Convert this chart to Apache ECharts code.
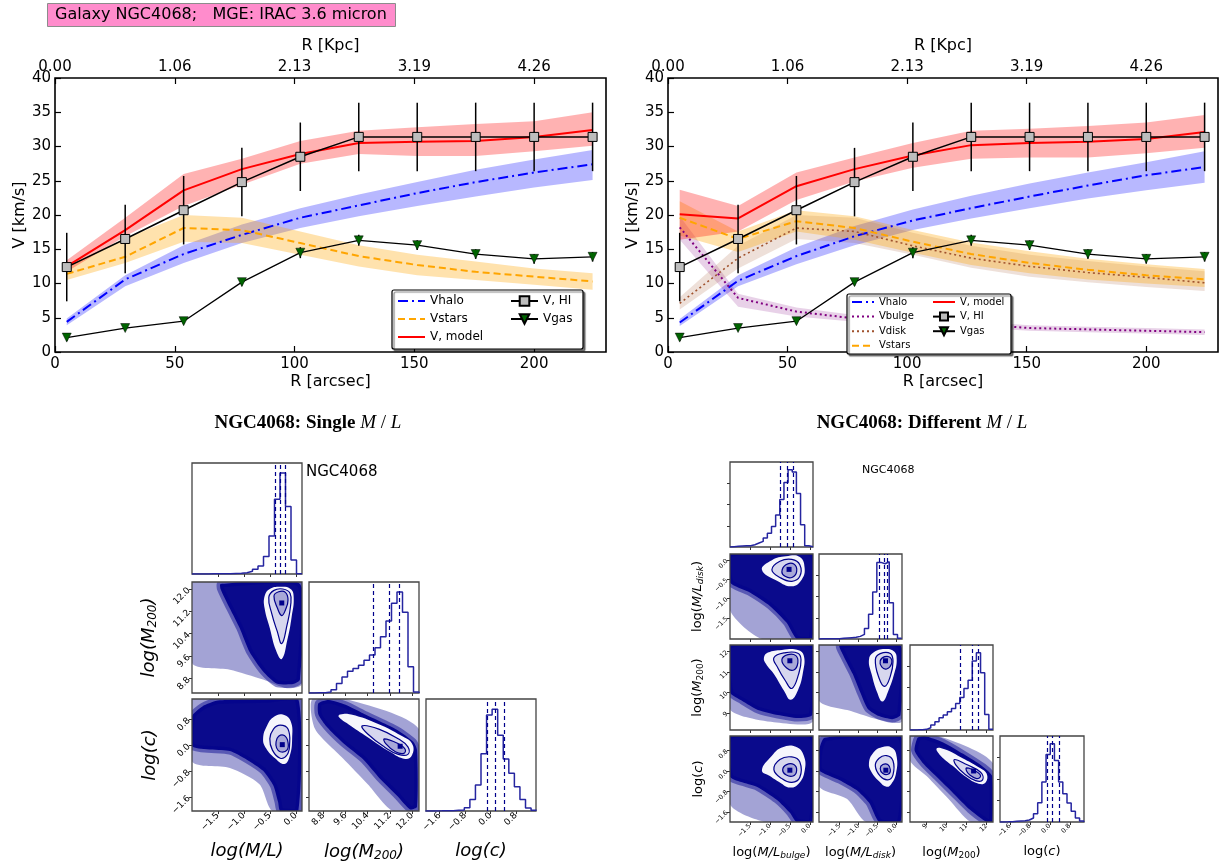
<!DOCTYPE html>
<html>
<head>
<meta charset="utf-8">
<script src="https://cdn.jsdelivr.net/npm/echarts@6/dist/echarts.min.js"></script>
<style>
html, body { margin: 0; padding: 0; background: #fff; }
#main { width: 1219px; height: 867px; }
</style>
</head>
<body>
<div id="main"></div>
<script>
// NGC4068 rotation curve decomposition + MCMC corner plots
const FONT = 'DejaVu Sans';
const NAVY = '#00008b';

// ---- rotation curves (radius in arcsec, velocities in km/s) ----
const radius = [4.9, 29.3, 53.7, 78.0, 102.4, 126.8, 151.2, 175.6, 200.0, 224.4];
const vHI = [12.4, 16.5, 20.7, 24.8, 28.5, 31.4, 31.4, 31.4, 31.4, 31.4];
const eHI = [5.0, 5.0, 5.0, 5.0, 5.0, 5.0, 5.0, 5.0, 5.0, 5.0];
const vGas = [2.1, 3.5, 4.5, 10.2, 14.5, 16.3, 15.6, 14.3, 13.6, 13.9];
const eGas = [0.5, 0.4, 0.4, 0.5, 0.8, 0.8, 0.7, 0.7, 0.7, 0.7];
const arcsecTicks = [0, 50, 100, 150, 200];
const kpcLabels = ['0.00', '1.06', '2.13', '3.19', '4.26'];
const velTicks = [0, 5, 10, 15, 20, 25, 30, 35, 40];

// single M/L fit
const singleHalo   = [4.4, 10.6, 14.3, 17.1, 19.6, 21.4, 23.2, 24.8, 26.2, 27.4];
const singleHaloLo = [3.9, 9.6, 13.0, 15.9, 18.1, 19.8, 21.3, 22.7, 24.0, 25.1];
const singleHaloHi = [4.9, 11.2, 15.6, 18.6, 21.0, 23.0, 24.8, 26.6, 28.1, 29.5];
const singleStars   = [11.4, 13.9, 18.1, 17.8, 15.9, 14.0, 12.7, 11.7, 11.0, 10.3];
const singleStarsLo = [10.5, 13.0, 16.1, 15.9, 14.2, 12.5, 11.2, 10.5, 9.8, 9.1];
const singleStarsHi = [12.5, 16.6, 20.0, 19.6, 17.6, 15.6, 14.2, 13.2, 12.2, 11.5];
const singleModel   = [12.5, 17.8, 23.6, 26.7, 28.9, 30.5, 30.7, 30.8, 31.4, 32.4];
const singleModelLo = [11.7, 16.9, 21.3, 24.4, 27.5, 28.9, 28.6, 28.6, 29.3, 30.1];
const singleModelHi = [13.4, 19.6, 26.0, 28.2, 30.8, 32.3, 32.8, 33.3, 33.7, 35.0];

// different M/L fit
const diffHalo   = [4.3, 10.4, 14.0, 16.9, 19.2, 21.0, 22.7, 24.3, 25.8, 27.0];
const diffHaloLo = [3.8, 9.6, 12.8, 15.6, 17.8, 19.5, 21.0, 22.4, 23.6, 24.7];
const diffHaloHi = [4.8, 11.2, 15.3, 18.4, 20.8, 22.8, 24.6, 26.2, 27.7, 29.3];
const diffBulge   = [18.2, 7.9, 5.9, 4.9, 4.4, 4.1, 3.5, 3.3, 3.1, 2.9];
const diffBulgeLo = [16.4, 6.6, 5.2, 4.4, 3.9, 3.6, 3.1, 2.9, 2.7, 2.5];
const diffBulgeHi = [19.8, 8.5, 6.5, 5.4, 4.9, 4.5, 3.9, 3.7, 3.5, 3.3];
const diffDisk   = [7.1, 13.7, 18.1, 17.6, 15.5, 13.7, 12.5, 11.6, 10.9, 10.1];
const diffDiskLo = [6.2, 12.2, 16.5, 15.9, 14.2, 12.3, 11.0, 10.2, 9.5, 8.9];
const diffDiskHi = [8.0, 15.5, 20.0, 19.6, 17.4, 15.5, 14.2, 13.3, 12.5, 11.8];
const diffStars   = [19.6, 16.5, 19.1, 18.1, 16.1, 14.3, 13.0, 12.0, 11.2, 10.6];
const diffStarsLo = [17.0, 14.6, 17.6, 16.4, 14.5, 12.7, 11.5, 10.6, 10.0, 9.5];
const diffStarsHi = [22.0, 17.6, 20.7, 19.8, 17.8, 16.0, 14.7, 13.6, 12.8, 12.1];
const diffModel   = [20.1, 19.5, 24.2, 26.7, 28.7, 30.2, 30.5, 30.7, 31.1, 32.1];
const diffModelLo = [16.4, 17.6, 22.2, 24.9, 26.9, 28.2, 28.4, 28.4, 29.0, 29.8];
const diffModelHi = [23.7, 21.3, 26.2, 28.4, 30.5, 32.3, 32.6, 33.0, 33.5, 34.6];

// ---- corner plot, single M/L ----
const mlTicks = [-1.5, -1.0, -0.5, 0.0];
const m200Ticks = [8.8, 9.6, 10.4, 11.2, 12.0];
const cTicks = [-1.6, -0.8, 0.0, 0.8];
const histML = [0.3, 0.3, 0.3, 0.4, 0.5, 0.7, 1, 1.5, 2, 4, 8, 14, 24, 52, 114, 224, 302, 202, 42, 1];
const histM200 = [0, 0.5, 1, 3, 10, 28, 48, 65, 73, 83, 98, 113, 135, 168, 215, 268, 301, 241, 78, 3];
const histC = [0.2, 0.3, 0.4, 0.6, 1, 2, 3, 10, 34, 77, 170, 285, 302, 225, 154, 112, 72, 34, 9, 2];
const qML = [-0.40, -0.29, -0.20];
const qM200 = [10.59, 11.18, 11.54];
const qC = [-0.085, 0.148, 0.423];

const sMlM200Sparse = [[-2.0, 12.25], [0.12, 12.25], [0.12, 8.6], [-0.17, 8.45], [-0.63, 8.76], [-1.27, 9.11], [-2.0, 9.35]];
const sMlM200Dense = [[-1.45, 12.18], [0.08, 12.18], [0.08, 8.75], [-0.05, 8.6], [-0.37, 8.62], [-0.63, 9.05], [-0.89, 9.75], [-1.08, 10.6], [-1.27, 11.3], [-1.45, 12.0]];
const sMlM200Outer = [[-0.6, 11.75], [-0.5, 12.0], [-0.3, 12.08], [-0.1, 12.0], [-0.04, 11.7], [-0.08, 11.0], [-0.16, 10.2], [-0.27, 9.5], [-0.38, 9.8], [-0.5, 10.6], [-0.6, 11.3]];
const sMlM200Mid = [[-0.52, 11.7], [-0.42, 11.95], [-0.25, 12.0], [-0.11, 11.85], [-0.1, 11.4], [-0.17, 10.7], [-0.27, 10.05], [-0.36, 10.5], [-0.46, 11.1]];
const sMlM200Inner = [[-0.42, 11.75], [-0.33, 11.9], [-0.2, 11.88], [-0.15, 11.6], [-0.2, 11.25], [-0.27, 11.05], [-0.35, 11.3]];
const sMlM200Peak = [-0.27, 11.5];

const sMlCSparse = [[-2.0, 1.43], [0.12, 1.43], [0.12, -2.03], [-0.45, -2.03], [-0.7, -1.2], [-1.27, -0.7], [-2.0, -0.5]];
const sMlCDense = [[-1.5, 1.38], [-0.6, 1.42], [0.05, 1.42], [0.05, -2.03], [-0.3, -2.03], [-0.34, -1.76], [-0.43, -1.25], [-0.63, -0.79], [-0.95, -0.44], [-1.27, -0.18], [-2.0, -0.03], [-2.0, 0.9], [-1.8, 1.2]];
const sMlCOuter = [[-0.63, 0.2], [-0.55, 0.62], [-0.42, 0.88], [-0.25, 0.95], [-0.1, 0.75], [-0.07, 0.2], [-0.12, -0.35], [-0.22, -0.58], [-0.4, -0.4], [-0.57, -0.1]];
const sMlCMid = [[-0.5, 0.2], [-0.43, 0.5], [-0.3, 0.62], [-0.15, 0.5], [-0.12, 0.0], [-0.17, -0.3], [-0.3, -0.4], [-0.45, -0.15]];
const sMlCInner = [[-0.38, 0.1], [-0.33, 0.28], [-0.22, 0.3], [-0.15, 0.1], [-0.17, -0.15], [-0.3, -0.2], [-0.37, -0.08]];
const sMlCPeak = [-0.26, 0.02];

const sM200CSparse = [[8.4, 1.43], [9.6, 1.43], [12.25, 0.5], [12.25, -2.03], [11.3, -2.03], [10.4, -1.2], [9.5, -0.4], [8.5, 0.5]];
const sM200CDense = [[8.62, 1.3], [9.0, 1.4], [9.6, 1.25], [10.24, 0.98], [11.45, 0.48], [12.05, 0.1], [12.18, -0.15], [12.18, -1.9], [11.93, -1.98], [11.45, -1.55], [10.85, -1.04], [10.24, -0.44], [9.52, 0.06], [8.92, 0.57], [8.62, 0.95]];
const sM200COuter = [[9.4, 0.95], [9.8, 0.95], [10.8, 0.65], [11.6, 0.3], [12.0, 0.05], [12.0, -0.3], [11.75, -0.42], [11.2, -0.2], [10.4, 0.25], [9.7, 0.65], [9.35, 0.88]];
const sM200CMid = [[10.2, 0.6], [10.8, 0.5], [11.5, 0.2], [11.85, -0.05], [11.85, -0.28], [11.5, -0.28], [11.0, -0.05], [10.4, 0.35]];
const sM200CInner = [[11.0, 0.2], [11.5, 0.05], [11.75, -0.12], [11.7, -0.25], [11.4, -0.2], [11.05, 0.05]];
const sM200CPeak = [11.57, -0.03];

// ---- corner plot, different M/L ----
const mlbTicks = [-1.5, -1.0, -0.5, 0.0];
const mldTicks = [-1.5, -1.0, -0.5, 0.0];
const m200rTicks = [9, 10, 11, 12];
const crTicks = [-1.6, -0.8, 0.0, 0.8];
const histMLb = [1, 2, 3, 4, 4, 7, 12, 17, 27, 42, 62, 97, 144, 195, 234, 227, 162, 67, 4, 1];
const histMLd = [0.5, 0.5, 1, 1, 1, 2, 3, 4, 5, 8, 14, 32, 75, 142, 232, 228, 234, 110, 14, 2];
const histM200r = [0.3, 0.5, 1, 2, 7, 15, 25, 37, 45, 55, 65, 80, 98, 125, 150, 208, 233, 173, 47, 2];
const histCr = [0.3, 0.5, 1, 2, 3, 4, 6, 12, 25, 58, 120, 203, 235, 185, 120, 85, 57, 32, 12, 3];
const qMLb = [-0.73, -0.56, -0.42];
const qMLd = [-0.45, -0.32, -0.22];
const qM200r = [10.7, 11.27, 11.58];
const qCr = [-0.11, 0.11, 0.36];

const dBulgeDiskSparse = [[-2.0, 0.16], [0.08, 0.16], [0.08, -2.05], [-1.2, -2.05], [-2.0, -1.3]];
const dBulgeDiskDense = [[-2.0, 0.16], [0.06, 0.16], [0.06, -2.05], [-0.33, -2.05], [-0.58, -1.63], [-1.0, -1.19], [-1.5, -0.84], [-2.0, -0.58]];
const dBulgeDiskOuter = [[-1.2, -0.25], [-0.95, 0.0], [-0.6, 0.1], [-0.25, 0.08], [-0.13, -0.2], [-0.2, -0.5], [-0.45, -0.68], [-0.8, -0.55]];
const dBulgeDiskMid = [[-0.95, -0.25], [-0.75, -0.03], [-0.45, 0.02], [-0.25, -0.12], [-0.25, -0.42], [-0.45, -0.55], [-0.75, -0.45]];
const dBulgeDiskInner = [[-0.7, -0.3], [-0.6, -0.12], [-0.4, -0.1], [-0.33, -0.3], [-0.45, -0.45], [-0.62, -0.42]];
const dBulgeDiskPeak = [-0.52, -0.24];

const dBulgeM200Sparse = [[-2.0, 12.32], [0.08, 12.32], [0.08, 8.6], [-0.9, 8.55], [-1.6, 8.8], [-2.0, 9.2]];
const dBulgeM200Dense = [[-2.0, 12.32], [0.06, 12.32], [0.06, 8.9], [-0.3, 8.75], [-0.8, 8.9], [-1.3, 9.15], [-1.7, 9.6], [-2.0, 10.0]];
const dBulgeM200Outer = [[-1.15, 11.7], [-1.05, 11.95], [-0.7, 12.08], [-0.3, 12.08], [-0.15, 11.8], [-0.17, 11.0], [-0.3, 10.1], [-0.48, 9.65], [-0.65, 10.1], [-0.9, 10.9], [-1.1, 11.4]];
const dBulgeM200Mid = [[-0.9, 11.7], [-0.6, 11.95], [-0.3, 11.92], [-0.22, 11.6], [-0.28, 10.9], [-0.45, 10.2], [-0.62, 10.6], [-0.8, 11.2]];
const dBulgeM200Inner = [[-0.7, 11.6], [-0.55, 11.85], [-0.35, 11.8], [-0.3, 11.45], [-0.4, 11.1], [-0.58, 11.2]];
const dBulgeM200Peak = [-0.5, 11.55];

const dDiskM200Sparse = [[-2.05, 12.32], [0.16, 12.32], [0.16, 8.6], [-0.5, 8.7], [-1.2, 9.1], [-2.05, 9.6]];
const dDiskM200Dense = [[-1.5, 12.3], [0.12, 12.3], [0.12, 8.9], [-0.1, 8.7], [-0.45, 8.85], [-0.75, 9.2], [-0.95, 10.0], [-1.15, 10.9], [-1.4, 11.8]];
const dDiskM200Outer = [[-0.72, 11.6], [-0.6, 11.95], [-0.3, 12.12], [-0.05, 12.0], [0.02, 11.6], [-0.05, 10.9], [-0.2, 10.1], [-0.36, 9.56], [-0.5, 10.0], [-0.65, 10.9]];
const dDiskM200Mid = [[-0.55, 11.6], [-0.42, 11.9], [-0.15, 11.9], [-0.08, 11.5], [-0.15, 10.8], [-0.3, 10.3], [-0.45, 10.7]];
const dDiskM200Inner = [[-0.42, 11.55], [-0.3, 11.75], [-0.15, 11.7], [-0.12, 11.4], [-0.25, 11.15], [-0.38, 11.25]];
const dDiskM200Peak = [-0.28, 11.55];

const dBulgeCSparse = [[-2.0, 1.37], [0.08, 1.37], [0.08, -2.0], [-1.1, -2.0], [-2.0, -1.3]];
const dBulgeCDense = [[-2.0, 1.37], [0.06, 1.37], [0.06, -2.0], [-0.33, -2.0], [-0.5, -1.64], [-0.83, -1.13], [-1.33, -0.62], [-2.0, -0.23]];
const dBulgeCOuter = [[-1.2, 0.03], [-0.95, 0.6], [-0.7, 0.92], [-0.35, 0.95], [-0.15, 0.6], [-0.13, 0.0], [-0.28, -0.5], [-0.5, -0.65], [-0.75, -0.45], [-1.0, -0.2]];
const dBulgeCMid = [[-0.9, 0.05], [-0.75, 0.45], [-0.45, 0.55], [-0.25, 0.35], [-0.25, -0.25], [-0.45, -0.45], [-0.7, -0.3]];
const dBulgeCInner = [[-0.68, 0.05], [-0.58, 0.25], [-0.4, 0.25], [-0.33, 0.02], [-0.42, -0.2], [-0.6, -0.15]];
const dBulgeCPeak = [-0.5, 0.03];

const dDiskCSparse = [[-2.05, 1.37], [0.16, 1.37], [0.16, -2.0], [-0.8, -2.0], [-1.3, -1.1], [-2.05, -0.6]];
const dDiskCDense = [[-1.9, 1.3], [0.12, 1.37], [0.12, -2.0], [-0.45, -2.0], [-0.71, -1.26], [-1.06, -0.74], [-1.5, -0.36], [-2.05, 0.03], [-2.05, 0.8]];
const dDiskCOuter = [[-0.72, 0.3], [-0.6, 0.72], [-0.38, 0.93], [-0.1, 0.9], [0.02, 0.55], [0.0, -0.1], [-0.12, -0.5], [-0.25, -0.62], [-0.45, -0.4], [-0.65, -0.05]];
const dDiskCMid = [[-0.55, 0.2], [-0.45, 0.5], [-0.25, 0.6], [-0.08, 0.4], [-0.08, -0.15], [-0.22, -0.35], [-0.42, -0.2]];
const dDiskCInner = [[-0.42, 0.1], [-0.35, 0.25], [-0.22, 0.25], [-0.15, 0.05], [-0.2, -0.12], [-0.35, -0.1]];
const dDiskCPeak = [-0.27, 0.03];

const dM200CSparse = [[8.17, 1.37], [9.6, 1.37], [12.32, 0.3], [12.32, -2.0], [11.2, -2.0], [10.1, -1.1], [9.0, -0.2], [8.17, 0.4]];
const dM200CDense = [[8.55, 1.3], [8.9, 1.37], [9.83, 1.12], [10.83, 0.67], [11.83, 0.16], [12.28, -0.2], [12.28, -2.0], [12.0, -2.0], [11.17, -1.52], [10.33, -0.87], [9.5, -0.23], [8.83, 0.29], [8.4, 0.8]];
const dM200COuter = [[9.5, 0.88], [9.9, 0.85], [10.8, 0.5], [11.6, 0.15], [12.0, -0.1], [11.95, -0.45], [11.6, -0.5], [11.0, -0.25], [10.3, 0.2], [9.7, 0.6]];
const dM200CMid = [[10.4, 0.45], [11.0, 0.25], [11.7, -0.05], [11.8, -0.35], [11.45, -0.38], [10.9, -0.12], [10.45, 0.25]];
const dM200CInner = [[11.0, 0.12], [11.5, -0.03], [11.7, -0.2], [11.5, -0.3], [11.15, -0.15], [11.0, 0.0]];
const dM200CPeak = [11.35, 0.0];

// ------------------------------------------------------------------
const option = {
    animation: false,
    backgroundColor: '#ffffff',
    textStyle: { fontFamily: FONT },
    title: [{
        text: 'Galaxy NGC4068;   MGE: IRAC 3.6 micron',
        left: 47, top: 3,
        padding: [4, 9, 4, 8],
        backgroundColor: '#ff8ccc',
        borderColor: '#8c8c8c',
        borderWidth: 1,
        textStyle: { fontFamily: FONT, fontSize: 16, fontWeight: 'normal', color: '#000' }
    }],
    grid: [], xAxis: [], yAxis: [], legend: [], series: [], graphic: []
};

function addPanel(box, xAx, yAx, border) {
    const g = option.grid.length;
    option.grid.push({
        left: box[0], top: box[1], width: box[2], height: box[3],
        show: true, z: 3, backgroundColor: 'transparent',
        borderColor: border[0], borderWidth: border[1]
    });
    const xi = option.xAxis.length;
    option.xAxis.push(Object.assign({ gridIndex: g, type: 'value', position: 'bottom', splitLine: { show: false } }, xAx));
    const yi = option.yAxis.length;
    option.yAxis.push(Object.assign({ gridIndex: g, type: 'value', position: 'left', splitLine: { show: false } }, yAx));
    return { g, xi, yi };
}

function polygon(p, pts, style, smooth) {
    option.series.push({
        type: 'custom', xAxisIndex: p.xi, yAxisIndex: p.yi, silent: true, clip: true, z: 2,
        data: [pts[0]],
        renderItem: (params, api) => ({
            type: 'polygon',
            shape: { points: pts.map(q => api.coord(q)), smooth: smooth || 0 },
            style: style
        })
    });
}

function errorBars(p, v, e) {
    option.series.push({
        type: 'custom', xAxisIndex: p.xi, yAxisIndex: p.yi, silent: true, z: 5,
        data: radius.map((r, i) => [r, v[i] - e[i], v[i] + e[i]]),
        encode: { x: 0, y: [1, 2] },
        renderItem: (params, api) => {
            const a = api.coord([api.value(0), api.value(1)]);
            const b = api.coord([api.value(0), api.value(2)]);
            return { type: 'line', shape: { x1: a[0], y1: a[1], x2: b[0], y2: b[1] }, style: { stroke: '#000', lineWidth: 1.5 } };
        }
    });
}

const tickFont = { fontFamily: FONT, fontSize: 15, color: '#000' };
const nameFont = { fontFamily: FONT, fontSize: 16, color: '#000' };
const noLine = { show: false, onZero: false };

function rotPlot(box, comps, legendBox, legendCols, lg) {
    const p = addPanel(box, {
        min: 0, max: 230,
        axisLine: noLine,
        axisTick: { inside: true, length: 6, customValues: arcsecTicks, lineStyle: { color: '#000', width: 1.2 } },
        axisLabel: Object.assign({ customValues: arcsecTicks, margin: 5 }, tickFont),
        name: 'R [arcsec]', nameLocation: 'middle', nameGap: 22, nameTextStyle: nameFont
    }, {
        min: 0, max: 40,
        axisLine: noLine,
        axisTick: { inside: true, length: 6, customValues: velTicks, lineStyle: { color: '#000', width: 1.2 } },
        axisLabel: Object.assign({ customValues: velTicks, margin: 4 }, tickFont),
        name: 'V [km/s]', nameLocation: 'middle', nameGap: 27, nameTextStyle: nameFont
    }, ['#000', 1.6]);
    option.xAxis.push({
        gridIndex: p.g, type: 'value', min: 0, max: 230, position: 'top',
        splitLine: { show: false }, axisLine: noLine,
        axisTick: { inside: true, length: 6, customValues: arcsecTicks, lineStyle: { color: '#000', width: 1.2 } },
        axisLabel: Object.assign({ customValues: arcsecTicks, margin: 3, formatter: v => kpcLabels[arcsecTicks.indexOf(v)] }, tickFont),
        name: 'R [Kpc]', nameLocation: 'middle', nameGap: 24, nameTextStyle: nameFont
    });

    comps.forEach(c => {
        const upper = radius.map((r, i) => [r, c.hi[i]]);
        const lower = radius.map((r, i) => [r, c.lo[i]]).reverse();
        polygon(p, upper.concat(lower), { fill: c.band });
    });
    comps.forEach(c => {
        option.series.push({
            type: 'line', name: c.name, xAxisIndex: p.xi, yAxisIndex: p.yi, silent: true, z: 4,
            data: radius.map((r, i) => [r, c.v[i]]),
            symbol: 'none',
            lineStyle: { color: c.color, width: c.width, type: c.dash },
            itemStyle: { color: c.color }
        });
    });
    errorBars(p, vHI, eHI);
    option.series.push({
        type: 'line', name: 'V, HI', xAxisIndex: p.xi, yAxisIndex: p.yi, silent: true, z: 6,
        data: radius.map((r, i) => [r, vHI[i]]),
        symbol: 'rect', symbolSize: 9,
        lineStyle: { color: '#000', width: 1.5 },
        itemStyle: { color: '#bdbdbd', borderColor: '#000', borderWidth: 1 }
    });
    errorBars(p, vGas, eGas);
    option.series.push({
        type: 'line', name: 'Vgas', xAxisIndex: p.xi, yAxisIndex: p.yi, silent: true, z: 6,
        data: radius.map((r, i) => [r, vGas[i]]),
        symbol: 'triangle', symbolRotate: 180, symbolSize: 9,
        lineStyle: { color: '#000', width: 1.3 },
        itemStyle: { color: '#006400', borderColor: '#000', borderWidth: 0.5 }
    });

    option.graphic.push({
        type: 'rect', z: 30,
        shape: { x: legendBox[0], y: legendBox[1], width: legendBox[2], height: legendBox[3], r: 2 },
        style: { fill: '#fff', stroke: '#000', lineWidth: 1.2, shadowColor: 'rgba(0,0,0,0.5)', shadowOffsetX: 2, shadowOffsetY: 2, shadowBlur: 1 }
    });
    const marked = ['V, HI', 'Vgas'];
    legendCols.forEach(col => {
        option.legend.push({
            data: col.items.map(n => marked.indexOf(n) >= 0 ? { name: n } : { name: n, itemStyle: { opacity: 0 } }),
            orient: 'vertical', left: col.left, top: legendBox[1] + lg.pad,
            itemWidth: lg.w, itemHeight: lg.h, itemGap: lg.gap, padding: 0, z: 40,
            selectedMode: false,
            textStyle: { fontFamily: FONT, fontSize: lg.fs, color: '#000' }
        });
    });
}

const HALO_DASH = [10, 4, 2, 4];
const STAR_DASH = [7, 4];
const DOT = [2, 3];

rotPlot([55, 78, 551, 274], [
    { name: 'Vhalo', v: singleHalo, lo: singleHaloLo, hi: singleHaloHi, color: '#0000ff', band: 'rgba(0,0,255,0.28)', dash: HALO_DASH, width: 2 },
    { name: 'Vstars', v: singleStars, lo: singleStarsLo, hi: singleStarsHi, color: '#ffa500', band: 'rgba(255,165,0,0.32)', dash: STAR_DASH, width: 2 },
    { name: 'V, model', v: singleModel, lo: singleModelLo, hi: singleModelHi, color: '#ff0000', band: 'rgba(255,0,0,0.3)', dash: 'solid', width: 2 }
], [392, 290, 191, 59], [
    { left: 397, items: ['Vhalo', 'Vstars', 'V, model'] },
    { left: 510, items: ['V, HI', 'Vgas'] }
], { w: 27, h: 12, gap: 6, fs: 12, pad: 5 });

rotPlot([668, 78, 550, 274], [
    { name: 'Vhalo', v: diffHalo, lo: diffHaloLo, hi: diffHaloHi, color: '#0000ff', band: 'rgba(0,0,255,0.28)', dash: HALO_DASH, width: 2 },
    { name: 'Vbulge', v: diffBulge, lo: diffBulgeLo, hi: diffBulgeHi, color: '#800080', band: 'rgba(128,0,128,0.18)', dash: DOT, width: 2 },
    { name: 'Vdisk', v: diffDisk, lo: diffDiskLo, hi: diffDiskHi, color: '#a0522d', band: 'rgba(160,82,45,0.18)', dash: DOT, width: 1.6 },
    { name: 'Vstars', v: diffStars, lo: diffStarsLo, hi: diffStarsHi, color: '#ffa500', band: 'rgba(255,165,0,0.32)', dash: STAR_DASH, width: 2 },
    { name: 'V, model', v: diffModel, lo: diffModelLo, hi: diffModelHi, color: '#ff0000', band: 'rgba(255,0,0,0.3)', dash: 'solid', width: 2 }
], [847, 294, 164, 60], [
    { left: 851, items: ['Vhalo', 'Vbulge', 'Vdisk', 'Vstars'] },
    { left: 932, items: ['V, model', 'V, HI', 'Vgas'] }
], { w: 22, h: 10, gap: 4.6, fs: 10, pad: 3 });

// ---------------- corner plots ----------------
function fmt(v, dec) {
    const s = (Math.abs(v) < 1e-9 ? 0 : v).toFixed(dec);
    return s.replace('-', '\u2212');
}

function cornerAxis(spec, showLabel, showName, st) {
    return {
        min: spec.min, max: spec.max,
        axisLine: noLine,
        axisTick: { show: true, inside: false, length: 3, customValues: spec.ticks, lineStyle: { color: '#333', width: 1 } },
        axisLabel: {
            show: showLabel, customValues: spec.ticks, rotate: 45, margin: 3,
            fontFamily: FONT, fontSize: st.tick, color: '#000',
            formatter: v => fmt(v, spec.dec)
        },
        name: showName ? spec.name : '', nameLocation: 'middle', nameGap: st.gap,
        nameTextStyle: { rich: st.rich }
    };
}

function corner(cols, rows, vars, shapes, st) {
    const n = vars.length;
    for (let i = 0; i < n; i++) {
        for (let j = 0; j <= i; j++) {
            const box = [cols[j][0], rows[i][0], cols[j][1], rows[i][1]];
            const xv = vars[j];
            const xAx = cornerAxis(xv, i === n - 1, i === n - 1, st);
            if (i === j) {
                const top = 1.1 * Math.max(...xv.counts);
                const p = addPanel(box, xAx, {
                    min: 0, max: top, axisLine: noLine,
                    axisTick: { show: st.histTicks, inside: false, length: 3, customValues: [0.25 * top, 0.5 * top, 0.75 * top], lineStyle: { color: '#333' } },
                    axisLabel: { show: false }
                }, ['#444', 1.3]);
                const pts = [[xv.hStart, 0]];
                xv.counts.forEach((c, k) => pts.push([xv.hStart + k * xv.hWidth, c]));
                const end = xv.hStart + xv.counts.length * xv.hWidth;
                pts.push([end, xv.counts[xv.counts.length - 1]]);
                pts.push([end, 0]);
                option.series.push({
                    type: 'line', xAxisIndex: p.xi, yAxisIndex: p.yi, silent: true, z: 4,
                    data: pts, step: 'end', symbol: 'none',
                    lineStyle: { color: '#2525a0', width: 1.5 },
                    markLine: {
                        silent: true, symbol: 'none', label: { show: false },
                        lineStyle: { color: NAVY, type: [4, 3], width: 1.2 },
                        data: xv.q.map(v => ({ xAxis: v }))
                    }
                });
            } else {
                const yv = vars[i];
                const p = addPanel(box, xAx, cornerAxis(yv, j === 0, j === 0, Object.assign({}, st, { gap: st.ygap })), ['#444', 1.3]);
                const s = shapes[j + '-' + i];
                polygon(p, s.sparse, { fill: 'rgba(0,0,139,0.36)' }, 0.25);
                polygon(p, s.dense, { fill: '#0a0a8c', stroke: 'rgba(0,0,139,0.45)', lineWidth: 7, lineJoin: 'round' }, 0.2);
                polygon(p, s.outer, { fill: '#f6f6fc' }, 0.45);
                polygon(p, s.mid, { fill: '#d7d7ee', stroke: NAVY, lineWidth: 1.2 }, 0.45);
                polygon(p, s.inner, { fill: '#a8a8d8', stroke: NAVY, lineWidth: 1.2 }, 0.45);
                option.series.push({
                    type: 'custom', xAxisIndex: p.xi, yAxisIndex: p.yi, silent: true, z: 3,
                    data: [s.peak],
                    renderItem: (params, api) => {
                        const c = api.coord([api.value(0), api.value(1)]);
                        return { type: 'rect', shape: { x: c[0] - 2.5, y: c[1] - 2.5, width: 5, height: 5 }, style: { fill: NAVY } };
                    }
                });
            }
        }
    }
}

const leftRich = {
    i: { fontFamily: FONT, fontStyle: 'italic', fontSize: 18, color: '#000' },
    s: { fontFamily: FONT, fontStyle: 'italic', fontSize: 12, color: '#000', padding: [8, 0, 0, 0] }
};
corner([[192, 110], [309, 110], [426, 110]], [[463, 111], [582, 111], [699, 112]], [
    { min: -2.0, max: 0.12, ticks: mlTicks, dec: 1, name: '{i|log(M/L)}', hStart: -2.0, hWidth: 0.106, counts: histML, q: qML },
    { min: 8.28, max: 12.25, ticks: m200Ticks, dec: 1, name: '{i|log(M}{s|200}{i|)}', hStart: 8.28, hWidth: 0.1985, counts: histM200, q: qM200 },
    { min: -2.03, max: 1.43, ticks: cTicks, dec: 1, name: '{i|log(c)}', hStart: -2.05, hWidth: 0.175, counts: histC, q: qC }
], {
    '0-1': { sparse: sMlM200Sparse, dense: sMlM200Dense, outer: sMlM200Outer, mid: sMlM200Mid, inner: sMlM200Inner, peak: sMlM200Peak },
    '0-2': { sparse: sMlCSparse, dense: sMlCDense, outer: sMlCOuter, mid: sMlCMid, inner: sMlCInner, peak: sMlCPeak },
    '1-2': { sparse: sM200CSparse, dense: sM200CDense, outer: sM200COuter, mid: sM200CMid, inner: sM200CInner, peak: sM200CPeak }
}, { tick: 9, gap: 31, ygap: 33, rich: leftRich, histTicks: false });

const rightRich = {
    n: { fontFamily: FONT, fontSize: 13, color: '#000' },
    i: { fontFamily: FONT, fontStyle: 'italic', fontSize: 13, color: '#000' },
    s: { fontFamily: FONT, fontStyle: 'italic', fontSize: 9, color: '#000', padding: [6, 0, 0, 0] },
    u: { fontFamily: FONT, fontSize: 9, color: '#000', padding: [6, 0, 0, 0] }
};
corner([[730, 83], [819, 83], [910, 83], [1000, 84]], [[462, 85], [554, 85], [645, 85], [736, 86]], [
    { min: -2.0, max: 0.08, ticks: mlbTicks, dec: 1, name: '{n|log(}{i|M/L}{s|bulge}{n|)}', hStart: -2.0, hWidth: 0.104, counts: histMLb, q: qMLb },
    { min: -2.05, max: 0.16, ticks: mldTicks, dec: 1, name: '{n|log(}{i|M/L}{s|disk}{n|)}', hStart: -2.05, hWidth: 0.11, counts: histMLd, q: qMLd },
    { min: 8.17, max: 12.32, ticks: m200rTicks, dec: 0, name: '{n|log(}{i|M}{u|200}{n|)}', hStart: 8.17, hWidth: 0.2075, counts: histM200r, q: qM200r },
    { min: -2.0, max: 1.37, ticks: crTicks, dec: 1, name: '{n|log(}{i|c}{n|)}', hStart: -2.0, hWidth: 0.168, counts: histCr, q: qCr }
], {
    '0-1': { sparse: dBulgeDiskSparse, dense: dBulgeDiskDense, outer: dBulgeDiskOuter, mid: dBulgeDiskMid, inner: dBulgeDiskInner, peak: dBulgeDiskPeak },
    '0-2': { sparse: dBulgeM200Sparse, dense: dBulgeM200Dense, outer: dBulgeM200Outer, mid: dBulgeM200Mid, inner: dBulgeM200Inner, peak: dBulgeM200Peak },
    '1-2': { sparse: dDiskM200Sparse, dense: dDiskM200Dense, outer: dDiskM200Outer, mid: dDiskM200Mid, inner: dDiskM200Inner, peak: dDiskM200Peak },
    '0-3': { sparse: dBulgeCSparse, dense: dBulgeCDense, outer: dBulgeCOuter, mid: dBulgeCMid, inner: dBulgeCInner, peak: dBulgeCPeak },
    '1-3': { sparse: dDiskCSparse, dense: dDiskCDense, outer: dDiskCOuter, mid: dDiskCMid, inner: dDiskCInner, peak: dDiskCPeak },
    '2-3': { sparse: dM200CSparse, dense: dM200CDense, outer: dM200COuter, mid: dM200CMid, inner: dM200CInner, peak: dM200CPeak }
}, { tick: 6.5, gap: 23, ygap: 25, rich: rightRich, histTicks: true });

// captions
const serifRich = {
    b: { fontFamily: 'Liberation Serif', fontWeight: 'bold', fontSize: 19, color: '#000' },
    i: { fontFamily: 'Liberation Serif', fontStyle: 'italic', fontSize: 19, color: '#000' },
    n: { fontFamily: 'Liberation Serif', fontSize: 19, color: '#000' }
};
option.graphic.push(
    { type: 'text', x: 308, y: 423, z: 30, style: { text: '{b|NGC4068: Single }{i|M}{n| / }{i|L}', rich: serifRich, align: 'center', verticalAlign: 'middle', textAlign: 'center', textVerticalAlign: 'middle' } },
    { type: 'text', x: 922, y: 423, z: 30, style: { text: '{b|NGC4068: Different }{i|M}{n| / }{i|L}', rich: serifRich, align: 'center', verticalAlign: 'middle', textAlign: 'center', textVerticalAlign: 'middle' } },
    { type: 'text', x: 306, y: 472, z: 30, style: { text: 'NGC4068', fontFamily: FONT, fontSize: 15, fill: '#000', verticalAlign: 'middle', textVerticalAlign: 'middle' } },
    { type: 'text', x: 862, y: 470, z: 30, style: { text: 'NGC4068', fontFamily: FONT, fontSize: 11, fill: '#000', verticalAlign: 'middle', textVerticalAlign: 'middle' } }
);

const chart = echarts.init(document.getElementById('main'), null, { renderer: 'canvas' });
chart.setOption(option);
</script>
</body>
</html>
